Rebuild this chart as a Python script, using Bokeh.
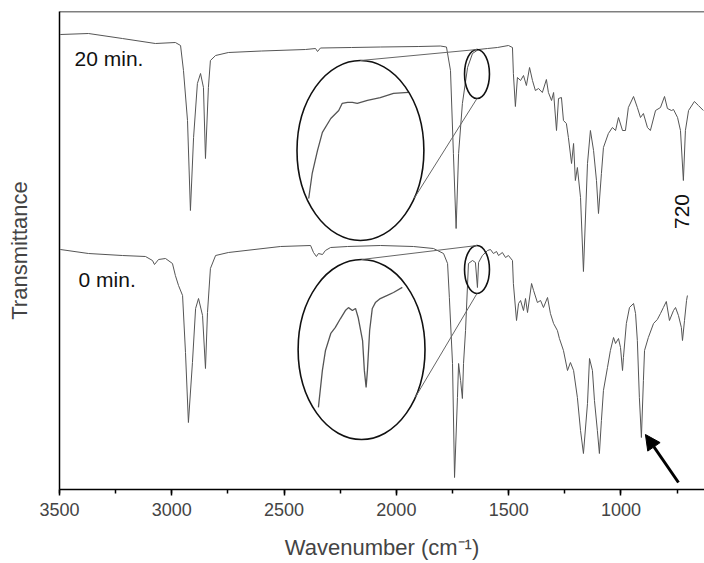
import math

from bokeh.embed import file_html
from bokeh.models import (Arrow, FixedTicker, Label, NormalHead, Range1d,
                          SingleIntervalTicker, Span)
from bokeh.plotting import figure
from bokeh.resources import INLINE

FONT = "Liberation Sans"

# FTIR spectra (transmittance in arbitrary units, traces stacked)
wn_20 = [3496, 3371, 3220, 3073, 2984, 2961, 2948, 2930, 2917, 2903,
         2886, 2872, 2859, 2850, 2837, 2828, 2805, 2748, 2600, 2405,
         2360, 2351, 2338, 2200, 2071, 1900, 1804, 1777, 1759, 1746,
         1734, 1723, 1706, 1683, 1661, 1635, 1594, 1550, 1501, 1483,
         1479, 1470, 1461, 1447, 1434, 1421, 1407, 1394, 1381, 1367,
         1350, 1332, 1323, 1309, 1300, 1287, 1278, 1265, 1256, 1243,
         1234, 1220, 1211, 1203, 1194, 1180, 1167, 1149, 1136, 1122,
         1109, 1100, 1087, 1078, 1056, 1038, 1024, 1011, 993, 980,
         967, 944, 927, 913, 900, 882, 869, 846, 824, 806,
         793, 775, 766, 748, 735, 722, 713, 699, 673, 655,
         633]
t_20 = [455, 456, 451, 446, 447, 444, 419, 369, 279, 352,
        406, 416, 402, 331, 402, 429, 434, 437, 438.5, 440,
        441, 438, 441.5, 442, 442.5, 443, 443.5, 442.5, 419, 336,
        261, 336, 386, 422, 436, 440, 441, 442, 444, 442,
        416, 383, 412, 409, 414, 404, 422, 409, 399, 401,
        397, 410, 397, 389, 397, 359, 391, 392, 369, 366,
        352, 326, 346, 309, 322, 292, 218, 326, 359, 339,
        309, 276, 316, 342, 356, 362, 359, 372, 359, 359,
        382, 393, 382, 372, 376, 362, 359, 379, 382, 393,
        381, 379, 380, 372, 359, 309, 359, 379, 388, 384,
        379]

wn_0 = [3496, 3371, 3220, 3117, 3086, 3077, 3059, 3028, 2997, 2984,
        2970, 2952, 2939, 2926, 2908, 2894, 2881, 2863, 2850, 2841,
        2828, 2805, 2748, 2516, 2382, 2369, 2356, 2347, 2329, 2316,
        2293, 2218, 2071, 1924, 1835, 1790, 1772, 1764, 1750, 1741,
        1728, 1723, 1714, 1706, 1701, 1692, 1679, 1661, 1648, 1639,
        1634, 1617, 1594, 1581, 1568, 1554, 1545, 1528, 1514, 1501,
        1483, 1479, 1465, 1456, 1447, 1434, 1425, 1416, 1398, 1389,
        1372, 1358, 1345, 1327, 1314, 1300, 1283, 1274, 1256, 1238,
        1225, 1211, 1194, 1180, 1167, 1149, 1140, 1127, 1118, 1105,
        1096, 1087, 1078, 1060, 1047, 1033, 1024, 1011, 1002, 993,
        989, 976, 962, 944, 935, 927, 918, 909, 900, 895,
        878, 855, 838, 824, 811, 798, 784, 766, 757, 744,
        731, 726, 717, 708, 704]
t_0 = [240, 236, 234, 233, 229, 225, 230, 231, 226, 214,
       204, 194, 137, 67, 127, 181, 191, 174, 121, 177,
       221, 234, 237, 243, 244, 237, 233, 236, 235, 239,
       242, 243, 244, 243, 241, 236, 226, 192, 126, 12,
       92, 126, 109, 91, 126, 159, 226, 229, 227, 202,
       227, 234, 239, 240, 236, 238, 234, 237, 232, 234,
       229, 206, 169, 186, 189, 179, 191, 177, 206, 199,
       187, 189, 182, 192, 176, 166, 159, 151, 139, 119,
       127, 119, 92, 59, 36, 86, 131, 119, 89, 59,
       36, 69, 99, 122, 139, 152, 146, 151, 142, 119,
       132, 166, 182, 186, 176, 149, 92, 52, 109, 139,
       152, 166, 170, 176, 182, 188, 169, 179, 182, 174,
       162, 149, 169, 189, 194]

# magnified views of the 1700-1580 cm-1 window
inset_wn_20 = [1694, 1690, 1684, 1678.5, 1669, 1660, 1656, 1650, 1644.5, 1639,
               1627.5, 1613, 1598, 1581]
inset_t_20 = [420.0, 425.3, 430.1, 433.9, 436.8, 438.5, 440.0, 440.2, 440.2, 440.0,
              440.6, 441.2, 442.1, 442.3]
inset_wn_0 = [1683, 1678.5, 1675, 1669, 1664, 1658, 1652.5, 1649, 1644.5, 1641,
              1638, 1633, 1631, 1629, 1627.5, 1625, 1622, 1618.5, 1613, 1605,
              1598, 1588]
inset_t_0 = [197.3, 211.2, 218.7, 225.1, 227.3, 230.7, 233.7, 234.8, 233.7, 234.5,
             231.1, 222.4, 211.2, 204.8, 211.2, 226.2, 234.5, 236.7, 238.2, 239.4,
             240.5, 242.4]

x_ticks_major = 500

p = figure(frame_width=645, frame_height=478,
           x_range=Range1d(3500, 628), y_range=Range1d(0, 478),
           output_backend="svg", toolbar_location=None,
           min_border_left=59, min_border_right=0,
           min_border_top=11, min_border_bottom=74)
p.background_fill_color = "white"
p.border_fill_color = "white"
p.outline_line_color = None
p.xgrid.visible = False
p.ygrid.visible = False

TRACE = "#555555"
p.line(wn_20, t_20, line_color=TRACE, line_width=1)
p.line(wn_0, t_0, line_color=TRACE, line_width=1)


def zoom_view(wn, t, wn_win, t_win, box_x, box_y):
    """Map a window of the spectrum into a box placed in the main axes."""
    xs = [box_x[0] + (w - wn_win[0]) / (wn_win[1] - wn_win[0]) * (box_x[1] - box_x[0]) for w in wn]
    ys = [box_y[0] + (v - t_win[0]) / (t_win[1] - t_win[0]) * (box_y[1] - box_y[0]) for v in t]
    return xs, ys


win = (1700, 1580)
ix, iy = zoom_view(inset_wn_20, inset_t_20, win, (420, 445), (2414, 1942), (291, 410))
p.line(ix, iy, line_color=TRACE, line_width=1.3)
ix, iy = zoom_view(inset_wn_0, inset_t_0, win, (195, 245), (2414, 1942), (76, 209))
p.line(ix, iy, line_color=TRACE, line_width=1.3)

# callouts: (big ellipse centre, size), (small ellipse centre, size)
big_x = [2160, 2155]
big_y = [339, 140]
big_w = [565, 565]
big_h = [180, 180]
small_x = [1641, 1641]
small_y = [415.5, 220]
small_w = [111, 111]
small_h = [49, 48]

p.ellipse(x=big_x, y=big_y, width=big_w, height=big_h,
          fill_color=None, line_color="#111111", line_width=1.6)
p.ellipse(x=small_x, y=small_y, width=small_w, height=small_h,
          fill_color=None, line_color="#111111", line_width=1.6)

theta = math.radians(-32)
x0, y0, x1, y1 = [], [], [], []
for bx, by, bw, bh, sx, sy, sh in zip(big_x, big_y, big_w, big_h, small_x, small_y, small_h):
    # upper link between the two ellipses
    x0.append(bx); y0.append(by + bh / 2)
    x1.append(sx); y1.append(sy + sh / 2)
    # lower link
    x0.append(bx - math.cos(theta) * bw / 2); y0.append(by + math.sin(theta) * bh / 2)
    x1.append(sx); y1.append(sy - sh / 2)
p.segment(x0, y0, x1, y1, line_color="#666666", line_width=1)

# annotations
p.add_layout(Label(x=3433, y=431.5, text="20 min.", text_font=FONT,
                   text_font_size="21px", text_color="#111111",
                   text_baseline="middle"))
p.add_layout(Label(x=3415, y=210.5, text="0 min.", text_font=FONT,
                   text_font_size="21px", text_color="#111111",
                   text_baseline="middle"))
p.add_layout(Label(x=726, y=278, text="720", text_font=FONT,
                   text_font_size="21px", text_color="#111111",
                   text_align="center", text_baseline="middle",
                   angle=math.pi / 2))
p.add_layout(Arrow(end=NormalHead(size=15, fill_color="black", line_color="black"),
                   x_start=744, y_start=7, x_end=891, y_end=55,
                   line_color="black", line_width=3))

# top edge of the frame
p.add_layout(Span(location=478, dimension="width", line_color="black", line_width=1.5))

# axes
xa = p.xaxis[0]
xa.ticker = SingleIntervalTicker(interval=x_ticks_major, num_minor_ticks=2)
xa.axis_label = "Wavenumber (cm\u207b\u00b9)"
xa.axis_label_text_font = FONT
xa.axis_label_text_font_style = "normal"
xa.axis_label_text_font_size = "22px"
xa.axis_label_standoff = 16
xa.major_label_text_font = FONT
xa.major_label_text_font_size = "18px"
xa.major_label_standoff = 7
xa.axis_line_width = 1.5
xa.major_tick_line_width = 1.5
xa.minor_tick_line_width = 1.5
xa.major_tick_in = 0
xa.major_tick_out = 6
xa.minor_tick_in = 0
xa.minor_tick_out = 4

ya = p.yaxis[0]
ya.ticker = FixedTicker(ticks=[])
ya.major_label_text_font_size = "0px"
ya.major_tick_line_color = None
ya.minor_tick_line_color = None
ya.axis_line_width = 1.5
ya.axis_label = "Transmittance"
ya.axis_label_text_font = FONT
ya.axis_label_text_font_style = "normal"
ya.axis_label_text_font_size = "22px"
ya.axis_label_standoff = 28

open("out.html", "w").write(file_html(p, INLINE))
